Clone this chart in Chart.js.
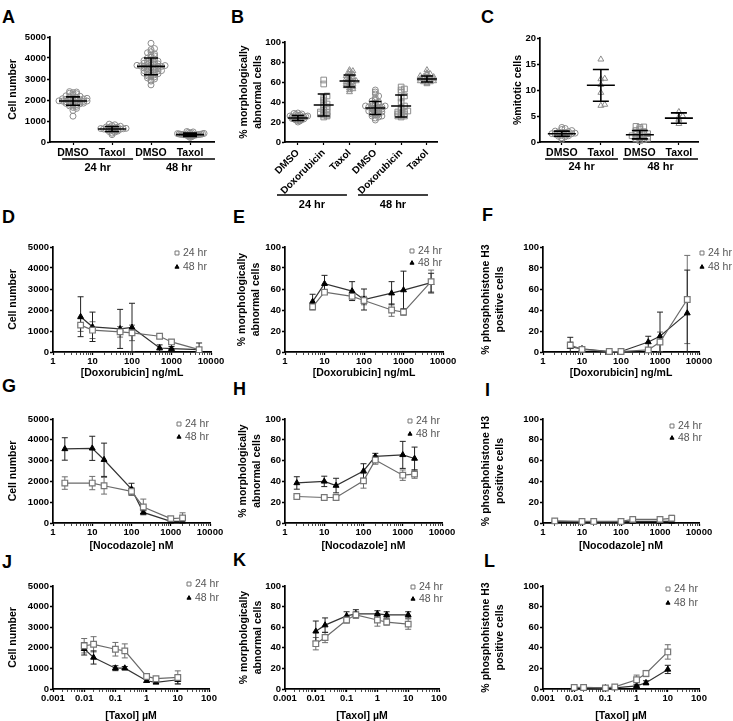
<!DOCTYPE html>
<html>
<head>
<meta charset="utf-8">
<script src="https://cdn.jsdelivr.net/npm/chart.js@4.4.1/dist/chart.umd.min.js"></script>
<style>
  html, body { margin: 0; padding: 0; background: #fff; width: 733px; height: 721px; overflow: hidden; }
  canvas { position: absolute; }
  .tag { position: absolute; font: bold 18px "Liberation Sans", Arial, sans-serif; line-height: 18px; color: #000; }
</style>
</head>
<body>
<div class="tag" style="left:2px;top:8px">A</div>
<div class="tag" style="left:231px;top:8px">B</div>
<div class="tag" style="left:481px;top:8px">C</div>
<div class="tag" style="left:2px;top:208px">D</div>
<div class="tag" style="left:233px;top:208px">E</div>
<div class="tag" style="left:482px;top:206px">F</div>
<div class="tag" style="left:2px;top:377px">G</div>
<div class="tag" style="left:233px;top:380px">H</div>
<div class="tag" style="left:485px;top:381px">I</div>
<div class="tag" style="left:2px;top:553px">J</div>
<div class="tag" style="left:233px;top:551px">K</div>
<div class="tag" style="left:484px;top:552px">L</div>

<canvas id="cA"></canvas><canvas id="cB"></canvas><canvas id="cC"></canvas>
<canvas id="cD"></canvas><canvas id="cE"></canvas><canvas id="cF"></canvas>
<canvas id="cG"></canvas><canvas id="cH"></canvas><canvas id="cI"></canvas>
<canvas id="cJ"></canvas><canvas id="cK"></canvas><canvas id="cL"></canvas>

<script>
// ---------- data: dot plots (A, B, C) ----------
const timeLabels = ['24 hr', '48 hr'];

const aCats = ['DMSO', 'Taxol', 'DMSO', 'Taxol'];
const aDmso24 = [1230, 1500, 1600, 1650, 1700, 1720, 1750, 1780, 1800, 1820, 1840, 1850, 1870, 1880, 1900, 1900, 1920, 1930, 1950, 1950,
                 1960, 1980, 2000, 2000, 2010, 2030, 2050, 2060, 2080, 2100, 2120, 2150, 2180, 2200, 2250, 2300, 2320, 2350, 2380, 2400];
const aTaxol24 = [350, 420, 470, 500, 520, 550, 560, 570, 590, 600, 610, 620, 630, 640, 650, 660, 680, 690, 700, 720, 750, 780, 820, 850];
const aDmso48 = [2720, 2900, 2950, 3000, 3050, 3100, 3100, 3150, 3180, 3200, 3220, 3250, 3280, 3300, 3320, 3350, 3380, 3400, 3400, 3420,
                 3450, 3480, 3500, 3520, 3550, 3560, 3580, 3600, 3600, 3600, 3620, 3640, 3650, 3680, 3700, 3700, 3720, 3750, 3780, 3800,
                 3820, 3850, 3880, 3900, 3950, 4000, 4050, 4100, 4150, 4200, 4250, 4300, 4400, 4450, 4700];
const aTaxol48 = [220, 250, 270, 290, 300, 300, 310, 320, 330, 330, 340, 340, 350, 350, 360, 360, 370, 370, 380, 390, 400, 410, 420, 440, 460, 480, 500];
const aMean = [1950, 620, 3600, 350];
const aSd = [200, 120, 400, 80];

const bCats = ['DMSO', 'Doxorubicin', 'Taxol', 'DMSO', 'Doxorubicin', 'Taxol'];
const bDmso24 = [20, 21, 21.5, 22, 22, 22.5, 23, 23, 23.5, 24, 24, 24, 24.5, 25, 25, 25, 25.5, 26, 26, 26.5, 27, 27.5, 28, 28.5, 29];
const bDoxo24 = [25, 26, 27, 27, 28, 29, 30, 30, 32, 33, 35, 35, 37, 38, 40, 42, 44, 46, 58, 62];
const bTaxol24 = [50, 52, 53, 54, 55, 56, 57, 58, 58, 59, 60, 60, 61, 62, 63, 63, 64, 65, 66, 67, 68, 70, 71, 72];
const bDmso48 = [22, 24, 25, 26, 26, 27, 28, 28, 29, 30, 30, 30, 31, 32, 32, 33, 33, 34, 34, 34, 35, 35, 36, 36, 37, 38, 38,
                 39, 40, 41, 42, 44, 46, 48, 50, 52];
const bDoxo48 = [25, 26, 26, 27, 28, 28, 29, 30, 30, 31, 32, 34, 36, 40, 44, 46, 50, 52, 53, 55];
const bTaxol48 = [58, 59, 60, 60, 61, 61, 62, 62, 63, 63, 63, 64, 64, 65, 65, 66, 67, 68, 69, 72];
const bMean = [24, 37, 61, 34, 36, 63];
const bSd = [2.5, 11, 6, 6.5, 11, 3];

const cCats = ['DMSO', 'Taxol', 'DMSO', 'Taxol'];
const cDmso24 = [0.5, 0.8, 1.0, 1.1, 1.2, 1.3, 1.3, 1.4, 1.5, 1.5, 1.6, 1.6, 1.7, 1.8, 1.8, 1.9, 2.0, 2.1, 2.2, 2.4, 2.6, 2.8];
const cTaxol24 = [15.9, 12.1, 12.2, 11.0, 9.5, 7.2, 7.0];
const cDmso48 = [0.3, 0.5, 0.6, 0.7, 0.8, 1.0, 1.0, 1.1, 1.2, 1.3, 1.4, 1.5, 1.6, 1.8, 2.0, 2.2, 2.5, 2.8, 2.9, 3.0];
const cTaxol48 = [5.8, 4.8, 4.4, 4.2, 3.5, 5.0];
const cMean = [1.6, 10.9, 1.4, 4.6];
const cSd = [0.5, 3.05, 0.8, 1.0];

// ---------- data: dose responses (D - L) ----------
const doxoDose = [5, 10, 50, 100, 500, 1000, 5000];
const nocoDose = [2, 10, 20, 100, 200, 1000, 2000];
const taxolDose = [0.01, 0.02, 0.1, 0.2, 1, 2, 10];
const nmDecades = [1, 10, 100, 1000, 10000];
const nmDecadeLabels = ['1', '10', '100', '1000', '10000'];
const umDecades = [0.001, 0.01, 0.1, 1, 10, 100];
const umDecadeLabels = ['0.001', '0.01', '0.1', '1', '10', '100'];

const dCells24 = [1280, 1040, 960, 910, 750, 480, 110];
const dCells24Sd = [300, 400, 250, 370, 100, 100, 100];
const dCells48 = [1680, 1200, 1100, 1170, 190, 160, 110];
const dCells48Sd = [950, 700, 930, 1150, 150, 100, 320];

const eAbn24 = [43, 57, 53, 49, 40, 38, 67];
const eAbn24Sd = [3, 2, 2, 4, 6, 3, 11];
const eAbn48 = [48, 65, 58, 50, 56, 59, 66];
const eAbn48Sd = [7, 8, 9, 10, 11, 18, 9];

const fPh3_24 = [6.5, 2.5, 0.5, 0.5, 2, 9.5, 50];
const fPh3_24Sd = [3, 1.5, 0.5, 0.5, 1, 9.5, 42];
const fPh3_48 = [5, 3, 0.5, 0.5, 9.5, 15, 37];
const fPh3_48Sd = [9, 2, 0.5, 0.5, 5.5, 23, 41];

const gCells24 = [1920, 1920, 1790, 1520, 770, 210, 240];
const gCells24Sd = [300, 320, 400, 180, 380, 80, 250];
const gCells48 = [3560, 3590, 3040, 1630, 510, 80, 80];
const gCells48Sd = [540, 580, 800, 280, 80, 60, 60];

const hAbn24 = [25.5, 24.5, 24.5, 40.5, 60.5, 46, 47];
const hAbn24Sd = [1, 1, 2, 7, 4, 5, 4];
const hAbn48 = [38.5, 40, 36, 50, 64, 65.5, 62];
const hAbn48Sd = [6, 5, 7, 7, 3, 13, 11];

const iPh3_24 = [2, 1.5, 1.5, 1.5, 3.5, 3.5, 4.5];
const iPh3_24Sd = [0.8, 0.6, 0.6, 0.8, 1, 1, 3];
const iPh3_48 = [1.5, 1, 1, 1, 1.5, 1.5, 1.5];
const iPh3_48Sd = [0.5, 0.5, 0.5, 0.5, 0.5, 0.5, 1];

const jCells24 = [2100, 2170, 1930, 1850, 610, 500, 560];
const jCells24Sd = [350, 370, 330, 340, 100, 100, 320];
const jCells48 = [1950, 1530, 1010, 1010, 400, 320, 450];
const jCells48Sd = [300, 320, 120, 80, 80, 60, 200];

const kAbn24 = [44, 50, 67, 72, 67, 65, 63];
const kAbn24Sd = [6, 5, 3, 3, 6, 3, 5];
const kAbn48 = [56, 62, 71, 73, 73, 72, 72];
const kAbn48Sd = [10, 7, 4, 4, 3, 3, 3];

const lPh3_24 = [1.5, 1.5, 1, 2, 9, 15, 36];
const lPh3_24Sd = [0.5, 0.5, 0.5, 0.8, 4.5, 3, 7];
const lPh3_48 = [1, 1, 1, 1, 3, 6, 19];
const lPh3_48Sd = [0.5, 0.5, 0.5, 0.5, 1, 2, 4];

// ---------- look ----------
const FONT = '"Liberation Sans", Arial, Helvetica, sans-serif';
Chart.defaults.font.family = FONT;
Chart.defaults.color = '#000';
const titleFont = { size: 10.5, weight: 'bold', lineHeight: 1.3 };
const tickFont = { size: 9.5, weight: 'bold' };

// error bars under the line markers
const errorBars = {
  id: 'errorBars',
  beforeDatasetsDraw(chart) {
    const { ctx, chartArea: area, scales: { y } } = chart;
    ctx.save();
    ctx.beginPath();
    ctx.rect(area.left - 10, area.top - 10, area.width + 20, area.height + 10);
    ctx.clip();
    chart.data.datasets.forEach((ds, i) => {
      if (!ds.errorBars) return;
      chart.getDatasetMeta(i).data.forEach((pt, j) => {
        const v = ds.data[j].y, e = ds.errorBars[j];
        const y0 = y.getPixelForValue(v + e), y1 = y.getPixelForValue(v - e);
        ctx.strokeStyle = ds.errColor;
        ctx.lineWidth = 1;
        ctx.beginPath();
        ctx.moveTo(pt.x, y0); ctx.lineTo(pt.x, y1);
        ctx.moveTo(pt.x - 3, y0); ctx.lineTo(pt.x + 3, y0);
        ctx.moveTo(pt.x - 3, y1); ctx.lineTo(pt.x + 3, y1);
        ctx.stroke();
      });
    });
    ctx.restore();
  }
};

// small "24 hr / 48 hr" key inside the plot
const doseKey = {
  id: 'doseKey',
  afterDraw(chart, args, opts) {
    if (!opts.at) return;
    const { ctx, chartArea: area } = chart;
    const x = area.right + opts.at[0];
    ctx.save();
    chart.data.datasets.forEach((ds, i) => {
      const y = area.top + opts.at[1 + i];
      ctx.fillStyle = ds.pointBackgroundColor;
      ctx.strokeStyle = ds.pointBorderColor;
      ctx.lineWidth = 1;
      Chart.helpers.drawPoint(ctx, { pointStyle: ds.pointStyle, radius: ds.pointRadius * 0.7, rotation: 0, borderWidth: 1 }, x, y);
      ctx.fillStyle = '#555';
      ctx.font = '10.5px ' + FONT;
      ctx.textAlign = 'left';
      ctx.textBaseline = 'middle';
      ctx.fillText(ds.label, x + 6, y + 0.5);
    });
    ctx.restore();
  }
};

// mean +/- SD bars on dot plots
const meanSd = {
  id: 'meanSd',
  afterDatasetsDraw(chart, args, opts) {
    if (!opts.means) return;
    const { ctx, scales: { x, y } } = chart;
    ctx.save();
    ctx.strokeStyle = '#000';
    ctx.lineWidth = 1.6;
    opts.means.forEach((m, i) => {
      const cx = x.getPixelForValue(i);
      const ym = y.getPixelForValue(m);
      const yt = y.getPixelForValue(m + opts.sds[i]);
      const yb = y.getPixelForValue(Math.max(0, m - opts.sds[i]));
      ctx.beginPath();
      ctx.moveTo(cx - opts.meanHalf, ym); ctx.lineTo(cx + opts.meanHalf, ym);
      ctx.moveTo(cx, yt); ctx.lineTo(cx, yb);
      ctx.moveTo(cx - opts.capHalf, yt); ctx.lineTo(cx + opts.capHalf, yt);
      ctx.moveTo(cx - opts.capHalf, yb); ctx.lineTo(cx + opts.capHalf, yb);
      ctx.stroke();
    });
    ctx.restore();
  }
};

// "24 hr" / "48 hr" brackets under dot plots
const spans = {
  id: 'spans',
  afterDraw(chart, args, opts) {
    if (!opts.items) return;
    const { ctx, chartArea: area, scales: { x } } = chart;
    ctx.save();
    opts.items.forEach(it => {
      const x0 = x.getPixelForValue(it.from), x1 = x.getPixelForValue(it.to);
      const yl = area.bottom + opts.lineY;
      ctx.strokeStyle = '#000';
      ctx.lineWidth = 1.6;
      ctx.beginPath(); ctx.moveTo(x0, yl); ctx.lineTo(x1, yl); ctx.stroke();
      ctx.fillStyle = '#000';
      ctx.font = 'bold 11px ' + FONT;
      ctx.textAlign = 'center';
      ctx.textBaseline = 'middle';
      ctx.fillText(it.label, (x0 + x1) / 2, area.bottom + opts.textY);
    });
    ctx.restore();
  }
};

function sizeCanvas(id, lay) {
  const c = document.getElementById(id);
  c.width = lay.cr - lay.cl;
  c.height = lay.cb - lay.ct;
  c.style.left = lay.cl + 'px';
  c.style.top = lay.ct + 'px';
  return c;
}

function yAxis(lay, max, step, title) {
  const w = lay.plot[0] - lay.cl;
  return {
    type: 'linear', position: 'left', min: 0, max: max,
    ticks: { stepSize: step, color: '#000', padding: 1, font: tickFont, callback: v => String(v) },
    grid: { drawOnChartArea: false, tickLength: 3, tickColor: '#000', tickWidth: 1.3 },
    border: { color: '#000', width: 1.7 },
    title: { display: true, text: title, color: '#000', font: titleFont, padding: { top: lay.tp, bottom: 0 } },
    afterFit: s => { s.width = w; }
  };
}

function logAxis(lay, decades, labels, title) {
  const h = lay.cb - lay.plot[3];
  const all = [];
  decades.forEach((d, i) => {
    all.push(d);
    if (i < decades.length - 1) for (let k = 2; k <= 9; k++) all.push(d * k);
  });
  const labelFor = v => {
    const i = decades.findIndex(d => Math.abs(d - v) < d * 1e-6);
    return i < 0 ? '' : labels[i];
  };
  return {
    type: 'logarithmic', position: 'bottom', min: decades[0], max: decades[decades.length - 1],
    afterBuildTicks: s => { s.ticks = all.map(v => ({ value: v, major: labelFor(v) !== '' })); },
    ticks: { autoSkip: false, minRotation: 0, maxRotation: 0, padding: 1, color: '#000', font: tickFont, callback: v => labelFor(v) },
    grid: { drawOnChartArea: false, tickLength: 3, tickColor: '#000',
            tickWidth: c => (c.tick && c.tick.major ? 1.3 : 0.7) },
    border: { color: '#000', width: 1.7 },
    title: { display: true, text: title, color: '#000', font: titleFont, padding: { top: 0, bottom: 0 } },
    afterFit: s => { s.height = h; }
  };
}

function dosePanel(id, lay, p) {
  const canvas = sizeCanvas(id, lay);
  const series = (vals) => p.dose.map((d, i) => ({ x: d, y: vals[i] }));
  new Chart(canvas, {
    type: 'scatter',
    data: {
      datasets: [
        { label: timeLabels[0], data: series(p.v24), errorBars: p.s24, errColor: '#6e6e6e', showLine: true, clip: false,
          borderColor: '#6a6a6a', borderWidth: 1.2, pointStyle: 'rect', pointRadius: 4, pointBorderWidth: 1.2,
          pointBorderColor: '#777', pointBackgroundColor: '#fff' },
        { label: timeLabels[1], data: series(p.v48), errorBars: p.s48, errColor: '#222', showLine: true, clip: false,
          borderColor: '#333', borderWidth: 1.2, pointStyle: 'triangle', pointRadius: 3.4, pointBorderWidth: 1,
          pointBorderColor: '#000', pointBackgroundColor: '#000' }
      ]
    },
    options: {
      responsive: false, animation: false, devicePixelRatio: 1,
      layout: { padding: { top: lay.plot[1] - lay.ct, right: lay.cr - lay.plot[2], left: 0, bottom: 0 } },
      scales: { x: logAxis(lay, p.decades, p.decadeLabels, p.xTitle), y: yAxis(lay, p.yMax, p.yStep, p.yTitle) },
      plugins: { legend: { display: false }, tooltip: { enabled: false }, doseKey: { at: lay.key } }
    },
    plugins: [errorBars, doseKey]
  });
}

// spread points sideways inside small value bins, never wider than maxHalf
function swarm(values, center, bin, step, maxHalf) {
  const counts = new Map();
  values.forEach(v => { const k = Math.round(v / bin); counts.set(k, (counts.get(k) || 0) + 1); });
  const busiest = Math.max(...counts.values());
  const s = Math.min(step, maxHalf / Math.max(1, Math.ceil((busiest - 1) / 2)));
  const used = new Map();
  return values.slice().sort((a, b) => a - b).map(v => {
    const k = Math.round(v / bin);
    const n = used.get(k) || 0;
    used.set(k, n + 1);
    const off = n === 0 ? 0 : (n % 2 ? 1 : -1) * Math.ceil(n / 2) * s;
    return { x: center + off, y: v };
  });
}

function dotPanel(id, lay, p) {
  const canvas = sizeCanvas(id, lay);
  const h = lay.cb - lay.plot[3];
  const datasets = p.groups.map((g, i) => ({
    data: swarm(g.values, i, p.bin, p.step, p.maxHalf), clip: false,
    pointStyle: g.style, pointRadius: g.r, pointBorderWidth: 1,
    pointBorderColor: '#8c8c8c', pointBackgroundColor: 'rgba(0,0,0,0)'
  }));
  new Chart(canvas, {
    type: 'scatter',
    data: { datasets },
    options: {
      responsive: false, animation: false, devicePixelRatio: 1,
      layout: { padding: { top: lay.plot[1] - lay.ct, right: lay.cr - lay.plot[2], left: 0, bottom: 0 } },
      scales: {
        x: {
          type: 'linear', position: 'bottom', min: p.xRange[0], max: p.xRange[1],
          afterBuildTicks: s => { s.ticks = p.cats.map((c, i) => ({ value: i })); },
          ticks: { autoSkip: false, minRotation: p.rot, maxRotation: p.rot, padding: 2, color: '#000',
                   font: { size: p.catSize, weight: 'bold' }, callback: v => p.cats[v] },
          grid: { drawOnChartArea: false, tickLength: 3, tickColor: '#000', tickWidth: 1.2 },
          border: { color: '#000', width: 1.7 },
          afterFit: s => { s.height = h; }
        },
        y: yAxis(lay, p.yMax, p.yStep, p.yTitle)
      },
      plugins: {
        legend: { display: false }, tooltip: { enabled: false },
        meanSd: { means: p.means, sds: p.sds, meanHalf: p.meanHalf, capHalf: p.capHalf },
        spans: { items: p.spans.map((r, i) => ({ from: r[0], to: r[1], label: timeLabels[i] })), lineY: p.lineY, textY: p.textY }
      }
    },
    plugins: [meanSd, spans]
  });
}

const morphTitle = ['% morphologically', 'abnormal cells'];
const ph3Title = ['% phosphohistone H3', 'positive cells'];

// ---------- row 1 ----------
dotPanel('cA', { cl: 0, cr: 230, ct: 28, cb: 212, plot: [50, 37, 214, 142], tp: 6.2 }, {
  cats: aCats, xRange: [-0.59, 3.615], rot: 0, catSize: 10.5,
  groups: [{ values: aDmso24, style: 'circle', r: 3 }, { values: aTaxol24, style: 'circle', r: 3 },
           { values: aDmso48, style: 'circle', r: 3 }, { values: aTaxol48, style: 'circle', r: 3 }],
  bin: 120, step: 0.1, maxHalf: 0.36, means: aMean, sds: aSd, meanHalf: 14, capHalf: 7,
  yMax: 5000, yStep: 1000, yTitle: 'Cell number',
  spans: [[-0.28, 1.54], [1.8, 3.64]], lineY: 17, textY: 26
});
dotPanel('cB', { cl: 230, cr: 476, ct: 28, cb: 212, plot: [285, 42, 437, 142], tp: 7.2 }, {
  cats: bCats, xRange: [-0.5, 5.39], rot: 45, catSize: 10,
  groups: [{ values: bDmso24, style: 'circle', r: 3 }, { values: bDoxo24, style: 'rect', r: 4 },
           { values: bTaxol24, style: 'triangle', r: 3.4 }, { values: bDmso48, style: 'circle', r: 3 },
           { values: bDoxo48, style: 'rect', r: 4 }, { values: bTaxol48, style: 'triangle', r: 3.4 }],
  bin: 2.5, step: 0.13, maxHalf: 0.38, means: bMean, sds: bSd, meanHalf: 10, capHalf: 6,
  yMax: 100, yStep: 20, yTitle: morphTitle,
  spans: [[-0.81, 1.9], [2.33, 5.04]], lineY: 53, textY: 63
});
dotPanel('cC', { cl: 476, cr: 733, ct: 28, cb: 212, plot: [540, 38, 698, 142], tp: 35.2 }, {
  cats: cCats, xRange: [-0.56, 3.49], rot: 0, catSize: 10.5,
  groups: [{ values: cDmso24, style: 'circle', r: 3 }, { values: cTaxol24, style: 'triangle', r: 3.4 },
           { values: cDmso48, style: 'rect', r: 4 }, { values: cTaxol48, style: 'triangle', r: 3.4 }],
  bin: 0.5, step: 0.1, maxHalf: 0.34, means: cMean, sds: cSd, meanHalf: 14, capHalf: 8,
  yMax: 20, yStep: 5, yTitle: '%mitotic cells',
  spans: [[-0.43, 1.44], [1.57, 3.49]], lineY: 17, textY: 25
});

// ---------- rows 2-4 ----------
const doxo = { dose: doxoDose, decades: nmDecades, decadeLabels: nmDecadeLabels, xTitle: '[Doxorubicin] ng/mL' };
const noco = { dose: nocoDose, decades: nmDecades, decadeLabels: nmDecadeLabels, xTitle: '[Nocodazole] nM' };
const taxol = { dose: taxolDose, decades: umDecades, decadeLabels: umDecadeLabels, xTitle: '[Taxol] \u00b5M' };
const cells = { yMax: 5000, yStep: 1000, yTitle: 'Cell number' };
const morph = { yMax: 100, yStep: 20, yTitle: morphTitle };
const ph3 = { yMax: 100, yStep: 20, yTitle: ph3Title };

dosePanel('cD', { cl: 0, cr: 230, ct: 238, cb: 380, plot: [53, 247, 211, 352], tp: 6.2, key: [-34, 6, 20] },
  Object.assign({}, doxo, cells, { v24: dCells24, s24: dCells24Sd, v48: dCells48, s48: dCells48Sd }));
dosePanel('cE', { cl: 230, cr: 476, ct: 238, cb: 380, plot: [285, 247, 443, 352], tp: 5.2, key: [-31, 4, 16] },
  Object.assign({}, doxo, morph, { v24: eAbn24, s24: eAbn24Sd, v48: eAbn48, s48: eAbn48Sd }));
dosePanel('cF', { cl: 476, cr: 733, ct: 238, cb: 380, plot: [543, 247, 699, 352], tp: 3.2, key: [3, 6, 20] },
  Object.assign({}, doxo, ph3, { v24: fPh3_24, s24: fPh3_24Sd, v48: fPh3_48, s48: fPh3_48Sd }));

dosePanel('cG', { cl: 0, cr: 230, ct: 410, cb: 553, plot: [53, 419, 210, 523], tp: 6.2, key: [-31, 5, 18] },
  Object.assign({}, noco, cells, { v24: gCells24, s24: gCells24Sd, v48: gCells48, s48: gCells48Sd }));
dosePanel('cH', { cl: 230, cr: 476, ct: 410, cb: 553, plot: [285, 419, 442, 523], tp: 6.2, key: [-32, 2, 15] },
  Object.assign({}, noco, morph, { v24: hAbn24, s24: hAbn24Sd, v48: hAbn48, s48: hAbn48Sd }));
dosePanel('cI', { cl: 476, cr: 733, ct: 410, cb: 553, plot: [543, 419, 699, 523], tp: 3.2, key: [-27, 7, 19] },
  Object.assign({}, noco, ph3, { v24: iPh3_24, s24: iPh3_24Sd, v48: iPh3_48, s48: iPh3_48Sd }));

dosePanel('cJ', { cl: 0, cr: 230, ct: 577, cb: 723, plot: [53, 586, 209, 689], tp: 6.2, key: [-20, -2, 12] },
  Object.assign({}, taxol, cells, { v24: jCells24, s24: jCells24Sd, v48: jCells48, s48: jCells48Sd }));
dosePanel('cK', { cl: 230, cr: 476, ct: 577, cb: 723, plot: [285, 586, 439, 689], tp: 7.2, key: [-26, 1, 13] },
  Object.assign({}, taxol, morph, { v24: kAbn24, s24: kAbn24Sd, v48: kAbn48, s48: kAbn48Sd }));
dosePanel('cL', { cl: 476, cr: 733, ct: 577, cb: 723, plot: [543, 586, 699, 689], tp: 3.2, key: [-31, 3, 17] },
  Object.assign({}, taxol, ph3, { v24: lPh3_24, s24: lPh3_24Sd, v48: lPh3_48, s48: lPh3_48Sd }));
</script>
</body>
</html>
